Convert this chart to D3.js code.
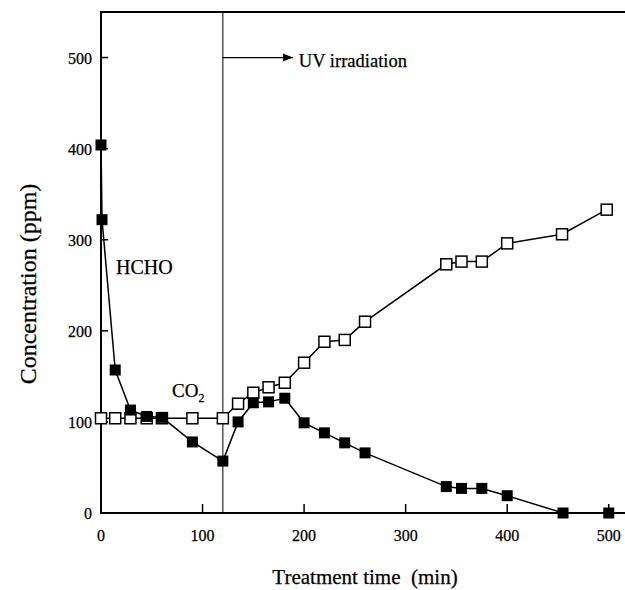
<!DOCTYPE html>
<html lang="en">
<head>
<meta charset="utf-8">
<title>HCHO / CO2 concentration vs treatment time</title>
<script src="https://cdn.jsdelivr.net/npm/d3@7"></script>
<style>
  body { margin: 0; background: #fff; }
  text { font-family: "Liberation Serif", "DejaVu Serif", serif; fill: #000; stroke: #000; stroke-width: 0.25; }
</style>
</head>
<body>
<script>
// data
var hchoTime = [0, 1, 14, 29, 45, 60, 90, 120, 135, 150, 165, 181, 200, 220, 240, 260, 340, 355, 375, 400, 455, 500];
var hchoConc = [404, 322, 157, 113, 106, 105, 78, 57, 100, 121, 122, 126, 99, 88, 77, 66, 29, 27, 27, 19, 0, 0];
var co2Time = [0, 14, 29, 45, 60, 90, 120, 135, 150, 165, 181, 200, 220, 240, 260, 340, 355, 375, 400, 454, 498];
var co2Conc = [104, 104, 104, 104, 104, 104, 104, 120, 132, 138, 143, 165, 188, 190, 210, 273, 276, 276, 296, 306, 333];
var xTicks = [0, 100, 200, 300, 400, 500];
var yTicks = [0, 100, 200, 300, 400, 500];
var uvStart = 120;

var w = 625, h = 590;
var x = d3.scaleLinear().domain([0, 516]).range([101, 625]);
var y = d3.scaleLinear().domain([0, 550]).range([513, 12]);

var svg = d3.select("body").append("svg")
  .attr("width", w).attr("height", h);

svg.append("defs").append("marker")
  .attr("id", "arrow")
  .attr("viewBox", "0 0 10 10")
  .attr("refX", 10).attr("refY", 5)
  .attr("markerWidth", 10).attr("markerHeight", 10)
  .attr("markerUnits", "userSpaceOnUse")
  .attr("orient", "auto")
  .append("path").attr("d", "M0,1 L10,5 L0,9 Z").attr("fill", "#000");

// frame: left, top, bottom
svg.append("path")
  .attr("d", "M" + x(516) + "," + y(550) + " H" + x(0) + " V" + y(0) + " H" + x(516))
  .attr("fill", "none").attr("stroke", "#000").attr("stroke-width", 2);

// ticks (inward)
svg.selectAll(".xt").data(xTicks.slice(1)).enter().append("line")
  .attr("x1", d => x(d)).attr("x2", d => x(d))
  .attr("y1", y(0)).attr("y2", y(0) - 9)
  .attr("stroke", "#000").attr("stroke-width", 1.5);
svg.selectAll(".yt").data(yTicks.slice(1)).enter().append("line")
  .attr("x1", x(0)).attr("x2", x(0) + 7)
  .attr("y1", d => y(d)).attr("y2", d => y(d))
  .attr("stroke", "#000").attr("stroke-width", 1.5);

svg.selectAll(".xl").data(xTicks).enter().append("text")
  .attr("x", d => x(d)).attr("y", 541)
  .attr("text-anchor", "middle").style("font-size", "16px")
  .text(d => d);
svg.selectAll(".yl").data(yTicks).enter().append("text")
  .attr("x", 92).attr("y", d => y(d) + 6)
  .attr("text-anchor", "end").style("font-size", "16px")
  .text(d => d);

// axis titles
svg.append("text")
  .attr("x", 365).attr("y", 584)
  .attr("text-anchor", "middle").style("font-size", "21px")
  .attr("xml:space", "preserve")
  .text("Treatment time  (min)");
svg.append("text")
  .attr("transform", "translate(36,284) rotate(-90)")
  .attr("text-anchor", "middle").style("font-size", "24px")
  .text("Concentration (ppm)");

// UV start line and arrow
svg.append("line")
  .attr("x1", x(uvStart)).attr("x2", x(uvStart))
  .attr("y1", y(550)).attr("y2", y(0))
  .attr("stroke", "#000").attr("stroke-width", 1);
svg.append("line")
  .attr("x1", x(uvStart)).attr("x2", x(uvStart) + 70)
  .attr("y1", y(500)).attr("y2", y(500))
  .attr("stroke", "#000").attr("stroke-width", 1.2)
  .attr("marker-end", "url(#arrow)");
svg.append("text")
  .attr("x", x(uvStart) + 76).attr("y", y(500) + 9)
  .style("font-size", "18.5px")
  .text("UV irradiation");

// series
var hcho = hchoTime.map((t, i) => [t, hchoConc[i]]);
var co2 = co2Time.map((t, i) => [t, co2Conc[i]]);
var line = d3.line().x(d => x(d[0])).y(d => y(d[1]));

svg.append("path").datum(co2).attr("d", line)
  .attr("fill", "none").attr("stroke", "#000").attr("stroke-width", 1.5);
svg.append("path").datum(hcho).attr("d", line)
  .attr("fill", "none").attr("stroke", "#000").attr("stroke-width", 1.5);

var s = 11;
svg.selectAll(".co2").data(co2).enter().append("rect")
  .attr("x", d => x(d[0]) - s / 2).attr("y", d => y(d[1]) - s / 2)
  .attr("width", s).attr("height", s)
  .attr("fill", "#fff").attr("stroke", "#000").attr("stroke-width", 1.5);
svg.selectAll(".hcho").data(hcho).enter().append("rect")
  .attr("x", d => x(d[0]) - s / 2).attr("y", d => y(d[1]) - s / 2)
  .attr("width", s).attr("height", s)
  .attr("fill", "#000");

// series labels
svg.append("text").attr("x", 116).attr("y", 274)
  .style("font-size", "20px").text("HCHO");
var co2Label = svg.append("text").attr("x", 172).attr("y", 397)
  .style("font-size", "19px");
co2Label.append("tspan").text("CO");
co2Label.append("tspan").attr("dy", 5).style("font-size", "12px").text("2");
</script>
</body>
</html>
